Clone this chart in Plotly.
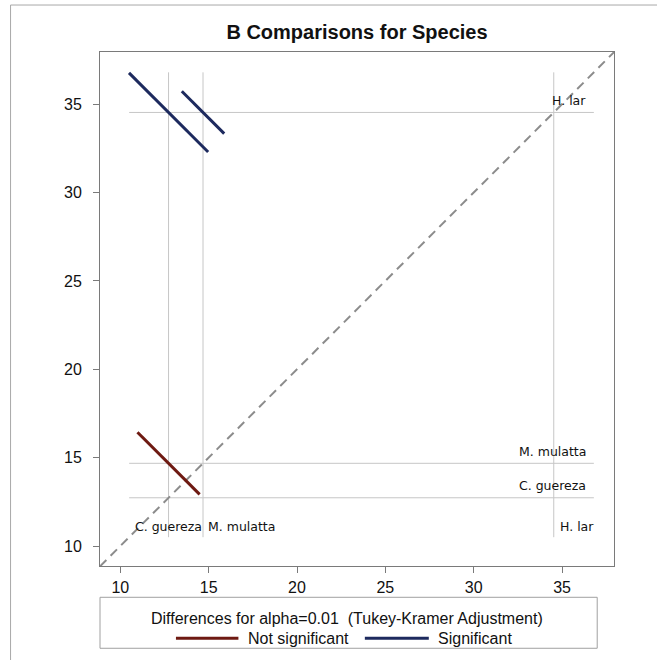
import plotly.graph_objects as go

# ---------------- data ----------------
species = ["C. guereza", "M. mulatta", "H. lar"]
lsmeans = [12.73, 14.68, 34.53]
pair_first = [0, 0, 1]
pair_second = [1, 2, 2]
pair_halfwidth = [1.76, 2.24, 1.20]
pair_significant = [False, True, True]
ref_extent = [10.5, 36.8]
x_range = [8.85, 37.94]
y_range = [8.87, 37.95]
tick_vals = [10, 15, 20, 25, 30, 35]
title_text = "<b>B Comparisons for Species</b>"
legend_title = "Differences for alpha=0.01\u00a0 (Tukey-Kramer Adjustment)"
legend_labels = ["Not significant", "Significant"]

# ---------------- style ----------------
COL_NS = "#6e1a12"
COL_S = "#1d2a5e"
REF_COL = "#c6c6c6"
FRAME_COL = "#7a7a7a"
TXT_COL = "#111111"
FONT = "Liberation Sans, Arial, sans-serif"
LBL_FONT = "DejaVu Sans, sans-serif"

W, H = 657, 660
PL, PR, PT, PB = 100.0, 614.3, 51.5, 565.7


def px(xp):
    return (xp - PL) / (PR - PL)


def py(yp):
    return (PB - yp) / (PB - PT)


fig = go.Figure()

# reference lines (vertical + horizontal) at each LS-mean
vx, vy, hx, hy = [], [], [], []
for m in lsmeans:
    vx += [m, m, None]
    vy += [ref_extent[0], ref_extent[1], None]
    hx += [ref_extent[0], ref_extent[1], None]
    hy += [m, m, None]
fig.add_trace(go.Scatter(x=vx, y=vy, mode="lines", line=dict(color=REF_COL, width=1),
                         hoverinfo="skip", showlegend=False))
fig.add_trace(go.Scatter(x=hx, y=hy, mode="lines", line=dict(color=REF_COL, width=1),
                         hoverinfo="skip", showlegend=False))

# diagonal y = x
fig.add_trace(go.Scatter(x=[x_range[0], x_range[1]], y=[x_range[0], x_range[1]], mode="lines",
                         line=dict(color="#8c8c8c", width=2, dash="9px,6px"),
                         hoverinfo="skip", showlegend=False))

# diffogram segments
for i, j, h, sig in zip(pair_first, pair_second, pair_halfwidth, pair_significant):
    mi, mj = lsmeans[i], lsmeans[j]
    fig.add_trace(go.Scatter(
        x=[mi - h, mi + h], y=[mj + h, mj - h], mode="lines",
        line=dict(color=COL_S if sig else COL_NS, width=3),
        name=species[i] + " - " + species[j], showlegend=False))

ann = []
# labels for horizontal lines (right side, above line)
for name, m in zip(species, lsmeans):
    ann.append(dict(x=36.45, y=m, xref="x", yref="y", text=name, showarrow=False,
                    xanchor="right", yanchor="middle", yshift=12,
                    font=dict(family=LBL_FONT, size=12.5, color=TXT_COL)))
# labels for vertical lines (bottom)
bottom_y = 11.11
ann.append(dict(x=lsmeans[0], y=bottom_y, xref="x", yref="y", text=species[0], showarrow=False,
                xanchor="center", yanchor="middle",
                font=dict(family=LBL_FONT, size=12.5, color=TXT_COL)))
ann.append(dict(x=lsmeans[1], y=bottom_y, xref="x", yref="y", text=species[1], showarrow=False,
                xanchor="left", yanchor="middle", xshift=3,
                font=dict(family=LBL_FONT, size=12.5, color=TXT_COL)))
ann.append(dict(x=lsmeans[2], y=bottom_y, xref="x", yref="y", text=species[2], showarrow=False,
                xanchor="left", yanchor="middle", xshift=4,
                font=dict(family=LBL_FONT, size=12.5, color=TXT_COL)))

# manual legend
ann.append(dict(x=px(347.5), y=py(618), xref="paper", yref="paper", text=legend_title,
                showarrow=False, xanchor="center", yanchor="middle",
                font=dict(family=FONT, size=16, color=TXT_COL)))
ann.append(dict(x=px(246), y=py(638), xref="paper", yref="paper", text=legend_labels[0],
                showarrow=False, xanchor="left", yanchor="middle",
                font=dict(family=FONT, size=16, color=TXT_COL)))
ann.append(dict(x=px(436), y=py(638), xref="paper", yref="paper", text=legend_labels[1],
                showarrow=False, xanchor="left", yanchor="middle",
                font=dict(family=FONT, size=16, color=TXT_COL)))

shapes = [
    dict(type="rect", xref="paper", yref="paper", x0=px(100), x1=px(597.5), y0=py(597), y1=py(648),
         line=dict(color="#a0a0a0", width=1), fillcolor="rgba(0,0,0,0)"),
    dict(type="line", xref="paper", yref="paper", x0=px(176), x1=px(238.5), y0=py(638), y1=py(638),
         line=dict(color=COL_NS, width=3)),
    dict(type="line", xref="paper", yref="paper", x0=px(365), x1=px(429), y0=py(638), y1=py(638),
         line=dict(color=COL_S, width=3)),
    # outer frame pieces
    dict(type="line", xref="paper", yref="paper", x0=px(10.5), x1=px(660), y0=py(4.5), y1=py(4.5),
         line=dict(color="#a8a8a8", width=1)),
    dict(type="line", xref="paper", yref="paper", x0=px(10.5), x1=px(10.5), y0=py(4.5), y1=py(665),
         line=dict(color="#a8a8a8", width=1)),
]

axis_common = dict(showgrid=False, zeroline=False, showline=True, mirror=True,
                   linecolor=FRAME_COL, linewidth=1, ticks="outside", ticklen=6,
                   tickcolor=FRAME_COL, tickwidth=1, tickvals=tick_vals,
                   tickfont=dict(family=FONT, size=16, color=TXT_COL))

fig.update_layout(
    width=W, height=H,
    margin=dict(l=PL, r=W - PR, t=PT, b=H - PB, pad=0),
    paper_bgcolor="white", plot_bgcolor="white",
    title=dict(text=title_text, x=0.5, xref="paper", xanchor="center",
               y=1 - 31.7 / H, yref="container", yanchor="middle",
               font=dict(family=FONT, size=20, color=TXT_COL)),
    xaxis=dict(range=x_range, ticklabelstandoff=1, **axis_common),
    yaxis=dict(range=y_range, ticklabelstandoff=8, **axis_common),
    annotations=ann, shapes=shapes, showlegend=False,
)

fig.write_html("out.html")
